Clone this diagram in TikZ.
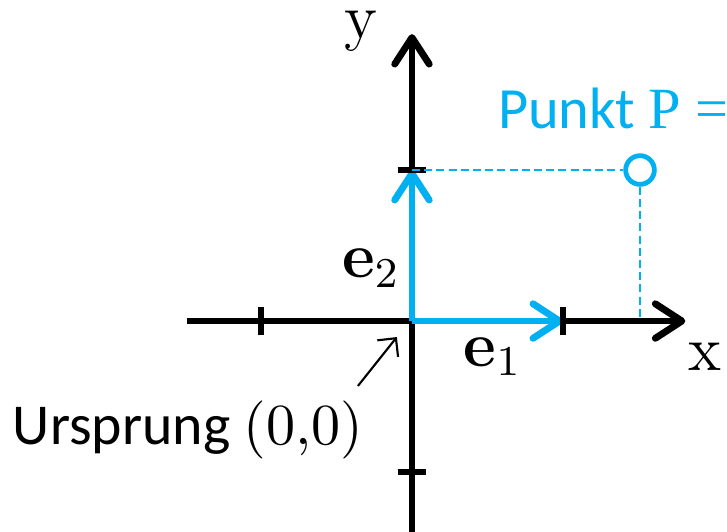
\documentclass[tikz,border=0pt]{standalone}
\usepackage[no-math]{fontspec}
\setmainfont{Carlito}
\newfontfamily\serifrm{Liberation Serif}
\usepackage{xcolor}
\usetikzlibrary{arrows.meta}
\usetikzlibrary{math}
\definecolor{pblue}{RGB}{0,176,240}

\begin{document}
\begin{tikzpicture}[scale=1,
  axis/.style={line width=1.3pt, -{Straight Barb[length=5pt,width=6.5pt,line cap=round,line join=round]}},
  vec/.style={color=pblue, line width=1.3pt, -{Straight Barb[length=5pt,width=6.5pt,line cap=round,line join=round]}},
  tick/.style={line width=1.15pt},
  help/.style={color=pblue, line width=0.4pt, dash pattern=on 1.5pt off 0.8pt},
  pt/.style={circle, draw=pblue, fill=white, line width=0.9pt, inner sep=0pt, minimum size=0.19cm}]

\tikzmath{
\xl = -1.49; %x-axis left end
\xr = 1.81;
\yb = -1.45;
\yt = 1.90;
\tl = 0.095; %half tick length
\px = 1.51;
\py = 1;
}

\useasboundingbox (-2.728,-1.391) rectangle (2.086,2.126);

\coordinate (O) at (0,0);
\coordinate (E1) at (1,0);
\coordinate (E2) at (0,1);
\coordinate (Px) at (\px,0);

%axes:
\draw[axis] (\xl,0) -- (\xr,0);
\draw[axis] (0,\yb) -- (0,\yt);
\node[inner sep=0pt] (xlab) at (1.943,-0.235) {\large$\mathrm{x}$};
\node[inner sep=0pt] (ylab) at (-0.338,1.92) {\large$\mathrm{y}$};

%unit vectors
\draw[vec] (O) -- (E1);
\draw[vec] (O) -- (E2);
\node[inner sep=0pt] (e1) at (0.536,-0.238) {\fontsize{11.5}{13}\selectfont$\mathbf{e}_1$};
\node[inner sep=0pt] (e2) at (-0.27,0.35) {\fontsize{11.5}{13}\selectfont$\mathbf{e}_2$};

%ticks
\foreach \x in {-1,1}
  \draw[tick] (\x,-\tl) -- (\x,\tl);
\foreach \y in {-1,1}
  \draw[tick] (-\tl,\y) -- (\tl,\y);

%point P
\node[pt] (P) at (\px,\py) {};
\draw[help] (E2) -- (P);
\draw[help] (P) -- (Px);
\node[anchor=base west, color=pblue, inner sep=0pt] (Plab) at (0.563,1.278)
  {\fontsize{11}{13}\selectfont Punkt {\serifrm P =}};

%origin
\node[inner sep=0pt] (urs) at (-1.483,-0.72) {\fontsize{10.9}{13}\selectfont Ursprung $(0{,}0)$};
\coordinate (us) at (-0.358,-0.43);
\coordinate (ua) at (-0.1,-0.106);
\draw[line width=0.4pt, -{Straight Barb[length=2.5pt,width=5pt]}] (us) -- (ua);

\end{tikzpicture}
\end{document}
